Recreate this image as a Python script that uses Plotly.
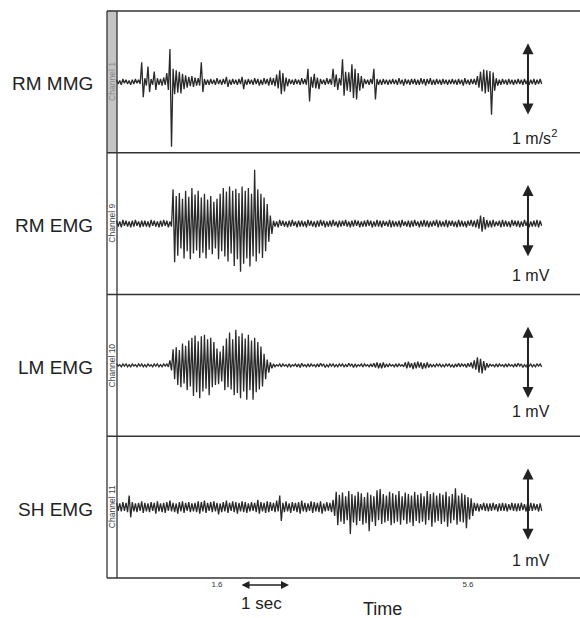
import plotly.graph_objects as go

# ---------------- data (min/max envelope per 0.05 s sample, in 0.01 units) -------------
T = [round(0.05 * i, 2) for i in range(136)]          # time (s)

CH1_HI = ([3, 2, 4, 3, 2, 3, 4, 3,
           27, 5, 21, 4, 14, 5, 4, 6, 12, 45, 18, 16, 14, 11, 9, 7, 8, 6, 5, 27, 4, 3,
           4, 3, 5, 3, 4, 7, 3, 4, 3, 4, 7, 3, 4, 3, 5, 4, 3, 5, 4, 6,
           5, 10, 16, 12, 6, 4, 3, 4, 3, 5, 4, 18, 7, 11, 6, 4, 3, 5, 4, 18,
           10, 5, 31, 14, 13, 24, 18, 12, 8, 4, 3, 4, 18, 4]
          + [3, 4, 3, 3, 4, 3, 5, 3, 4, 3, 4, 4, 3, 5, 4, 4, 5, 3, 4, 3, 4, 3, 3, 4, 3, 4, 3, 5, 3, 4, 4]
          + [8, 14, 17, 16, 15, 13, 5]
          + [3, 4, 3, 4, 3, 3, 4, 3, 4, 3, 3, 4, 3, 4])
CH1_LO = ([-3, -4, -2, -3, -4, -3, -2, -3,
           -21, -5, -14, -4, -11, -4, -5, -4, -11, -89, -17, -15, -16, -10, -8, -6, -7, -5, -5, -14, -4, -4,
           -3, -4, -3, -4, -3, -7, -4, -3, -4, -3, -10, -4, -3, -4, -3, -5, -4, -3, -5, -4,
           -6, -9, -17, -13, -6, -3, -4, -3, -4, -3, -4, -27, -8, -9, -10, -3, -4, -3, -4, -7,
           -11, -5, -19, -12, -14, -22, -24, -12, -9, -3, -4, -3, -24, -4]
          + [-4, -3, -4, -3, -3, -4, -3, -5, -3, -4, -3, -4, -4, -3, -5, -3, -4, -4, -3, -4, -3, -4, -3, -3, -4, -3, -5, -3, -4, -3, -4]
          + [-8, -13, -16, -14, -45, -12, -5]
          + [-4, -3, -4, -3, -4, -3, -3, -4, -3, -4, -3, -4, -3, -3])

CH2_HI = ([4, 3, 5, 4, 3, 4, 5, 3, 4, 4, 3, 5, 4, 3, 4, 5, 4, 3]
          + [47, 38, 42, 34, 45, 37, 49, 40, 45, 36, 41, 33, 38, 30, 34, 41,
             49, 44, 51, 45, 48, 42, 51, 45, 49, 41, 74, 47, 41, 36, 27, 11]
          + [4, 3, 5, 4, 3, 4, 5, 3, 4, 4, 3, 5, 4, 3, 4, 5, 4, 3, 4, 5,
             3, 4, 4, 5, 3, 4, 5, 4, 3, 4, 5, 4, 3, 5, 4, 4, 3, 5, 4, 3,
             4, 5, 3, 4, 4, 5, 3, 4, 5, 4, 3, 4, 5, 4, 3, 5, 4, 4, 3, 5,
             4, 3, 4, 5, 4]
          + [6, 11, 9, 5]
          + [4, 5, 3, 4, 5, 4, 3, 5, 4, 4, 3, 5, 4, 3, 4, 5, 4])
CH2_LO = ([-4, -5, -3, -4, -5, -4, -3, -5, -4, -4, -5, -3, -4, -5, -4, -3, -5, -4]
          + [-53, -44, -34, -48, -38, -49, -41, -37, -47, -40, -48, -36, -42, -34, -49, -38,
             -45, -52, -41, -58, -49, -66, -55, -48, -59, -45, -52, -41, -47, -38, -25, -14]
          + [-4, -5, -3, -4, -5, -4, -3, -5, -4, -4, -5, -3, -4, -5, -4, -3, -5, -4, -4, -3,
             -5, -4, -3, -4, -5, -4, -3, -5, -4, -4, -3, -5, -4, -4, -5, -3, -4, -5, -4, -4,
             -5, -3, -4, -5, -4, -3, -5, -4, -4, -5, -4, -3, -5, -4, -4, -5, -3, -4, -5, -4,
             -4, -5, -3, -4, -5]
          + [-7, -11, -8, -5]
          + [-5, -4, -3, -5, -4, -4, -5, -3, -4, -5, -4, -3, -5, -4, -4, -5, -3])

CH3_HI = ([2, 1, 2, 2, 1, 2, 1, 2, 2, 1, 2, 1, 2, 2, 1, 2, 2]
          + [7, 22, 25, 21, 30, 27, 34, 38, 41, 33, 40, 42, 36, 38, 32, 23, 19,
             27, 37, 45, 36, 49, 40, 44, 37, 42, 34, 38, 32, 26, 16, 8, 4]
          + [2, 1, 2, 2, 1, 2, 1, 2, 2, 3, 1, 2, 2, 1, 2, 3, 2, 1, 2, 2, 1, 2, 2, 1, 3, 2, 2, 1, 2, 2, 1, 2]
          + [3, 4, 3, 4]
          + [2, 2, 1, 2, 2, 1]
          + [4, 5, 3, 4, 5, 4, 3, 4]
          + [2, 1, 2, 2, 1, 2, 2, 1, 2, 3, 2, 2, 3]
          + [4, 7, 11, 9, 6, 3]
          + [2, 1, 2, 2, 1, 2, 2, 1, 2, 3, 2, 1, 2, 2, 1, 2, 2])
CH3_LO = ([-1, -2, -1, -2, -2, -1, -2, -1, -2, -2, -1, -2, -1, -2, -2, -1, -2]
          + [-7, -19, -27, -30, -25, -34, -29, -42, -37, -45, -36, -32, -41, -30, -27, -26, -22,
             -34, -30, -33, -41, -38, -45, -36, -47, -34, -47, -37, -33, -29, -19, -10, -4]
          + [-2, -1, -2, -1, -2, -2, -1, -2, -3, -1, -2, -2, -1, -2, -2, -1, -3, -2, -1, -2, -2, -1, -2, -2, -1, -3, -2, -1, -2, -1, -2, -2]
          + [-3, -4, -4, -3]
          + [-2, -1, -2, -2, -1, -2]
          + [-4, -3, -5, -4, -3, -5, -4, -3]
          + [-2, -2, -1, -2, -2, -1, -2, -3, -2, -2, -1, -3, -2]
          + [-4, -6, -10, -11, -7, -3]
          + [-1, -2, -2, -1, -2, -2, -1, -2, -2, -1, -3, -2, -1, -2, -2, -1, -2])

CH4_HI = ([6, 5, 7, 6, 16]
          + [7, 5, 6, 8, 6, 5, 7, 6, 8, 5, 6, 7, 9, 6, 5, 7, 8, 6, 7, 5,
             6, 8, 7, 9, 6, 7, 8, 6, 5, 7, 9, 6, 8, 7, 6, 8, 7, 5, 7, 6,
             10, 7, 6, 8, 7, 6, 9]
          + [16]
          + [6, 8, 5, 7, 6, 7, 9, 6, 5, 8, 7, 6, 8, 5, 7, 6]
          + [10, 21]
          + [17, 20, 15, 22, 18, 16, 21, 19, 14, 20, 17, 15, 23, 25, 18, 16, 21, 19, 17, 22,
             15, 20, 18, 16, 21, 17, 19, 15, 22, 18, 20, 16, 19, 17, 21, 15, 18, 26, 16, 19,
             17, 14, 12]
          + [6, 5, 4, 6, 5, 5, 6, 4, 5, 6, 5, 4, 6, 5, 5, 6, 4, 5, 6, 5, 4, 5])
CH4_LO = ([-5, -6, -5, -7, -14]
          + [-6, -7, -5, -8, -6, -7, -5, -9, -6, -7, -8, -5, -6, -7, -9, -6, -8, -5, -7, -6,
             -7, -9, -6, -8, -5, -7, -6, -10, -7, -6, -8, -5, -7, -9, -6, -7, -8, -6, -5, -7,
             -9, -6, -8, -7, -5, -7, -6]
          + [-19]
          + [-7, -6, -8, -5, -7, -9, -6, -7, -5, -8, -6, -7, -9, -6, -5, -7]
          + [-12, -25]
          + [-20, -23, -18, -37, -21, -25, -19, -24, -22, -33, -20, -26, -18, -23, -21, -19, -25, -22, -20, -24,
             -18, -23, -21, -26, -19, -22, -20, -24, -18, -27, -21, -19, -23, -20, -27, -22, -18, -24, -20, -21,
             -29, -17, -12]
          + [-5, -6, -4, -5, -6, -5, -4, -6, -5, -5, -6, -4, -5, -6, -5, -4, -6, -5, -5, -4, -6, -5])

ROW_LABELS = ["RM MMG", "RM EMG", "LM EMG", "SH EMG"]
CHANNEL_NAMES = ["Channel 1", "Channel 9", "Channel 10", "Channel 11"]
SCALE_LABELS = ["1 m/s<sup>2</sup>", "1 mV", "1 mV", "1 mV"]
TICK_VALS = [1.6, 5.6]
TICK_TEXT = ["1.6", "5.6"]

SERIES = [(CH1_HI, CH1_LO), (CH2_HI, CH2_LO), (CH3_HI, CH3_LO), (CH4_HI, CH4_LO)]
for hi, lo in SERIES:
    assert len(hi) == len(T) and len(lo) == len(T), (len(hi), len(lo))

# ---------------- figure -------------
FONT = "Liberation Sans, Arial, sans-serif"
INK = "#222222"
fig = go.Figure()

domains = [[0.75, 1.0], [0.5, 0.75], [0.25, 0.5], [0.0, 0.25]]
yr = [-0.973, 0.973]
plot_w = 473.0
strip = 10.0 / plot_w

for k, (hi, lo) in enumerate(SERIES):
    xs, ys = [], []
    for t, h, l in zip(T, hi, lo):
        xs += [t, t + 0.025]
        ys += [h / 100.0, l / 100.0]
    yname = "y" if k == 0 else f"y{k+1}"
    fig.add_trace(go.Scatter(x=xs, y=ys, mode="lines", xaxis="x", yaxis=yname,
                             line=dict(color="#2a2a2a", width=1.3),
                             hoverinfo="skip", showlegend=False))

layout = dict(
    width=580, height=618,
    margin=dict(l=107, r=0, t=11, b=40),
    paper_bgcolor="white", plot_bgcolor="white",
    font=dict(family=FONT, color=INK),
    xaxis=dict(range=[-0.153, 7.385], anchor="y4", showgrid=False, zeroline=False,
               showline=False, ticks="", tickvals=TICK_VALS, ticktext=TICK_TEXT,
               tickfont=dict(size=8, color="#333333"), fixedrange=True),
)
for k in range(4):
    key = "yaxis" if k == 0 else f"yaxis{k+1}"
    layout[key] = dict(domain=domains[k], range=yr, visible=False, anchor="x", fixedrange=True)
fig.update_layout(**layout)

shapes = []
# gray strip for channel 1
shapes.append(dict(type="rect", xref="paper", yref="paper", x0=0, x1=strip, y0=0.75, y1=1,
                   fillcolor="#c4c4c4", line=dict(width=0), layer="below"))
for yv in [1.0, 0.75, 0.5, 0.25, 0.0]:
    shapes.append(dict(type="line", xref="paper", yref="paper", x0=0, x1=1, y0=yv, y1=yv,
                       line=dict(color="#333333", width=1.6)))
for xv in [0, strip]:
    shapes.append(dict(type="line", xref="paper", yref="paper", x0=xv, x1=xv, y0=0, y1=1,
                       line=dict(color="#333333", width=1.3)))
fig.update_layout(shapes=shapes)

ann = []
label_dy = [-0.75, -0.71, -0.64, -0.73]
for k in range(4):
    yref = "y" if k == 0 else f"y{k+1}"
    # row label
    ann.append(dict(text=ROW_LABELS[k], xref="paper", yref=yref, x=-12 / plot_w, y=0,
                    xanchor="right", yanchor="middle", showarrow=False, yshift=-2,
                    font=dict(size=19, color=INK)))
    # channel name in strip
    ann.append(dict(text=CHANNEL_NAMES[k], xref="paper", yref=yref, x=strip / 2, y=0,
                    xanchor="center", yanchor="middle", showarrow=False, textangle=-90,
                    font=dict(size=8.5, color="#8a8a8a" if k == 0 else "#444444")))
    # scale arrow
    ann.append(dict(text="", xref="x", yref=yref, x=6.556, y=0.53,
                    axref="x", ayref=yref, ax=6.556, ay=-0.47,
                    showarrow=True, arrowhead=2, arrowside="end+start", arrowsize=1.1,
                    arrowwidth=2, arrowcolor=INK, standoff=0, startstandoff=0))
    ann.append(dict(text=SCALE_LABELS[k], xref="x", yref=yref, x=6.27, y=label_dy[k],
                    xanchor="left", yanchor="middle", showarrow=False,
                    font=dict(size=16, color=INK)))

# 1 sec arrow and labels below axis
ann.append(dict(text="", xref="x", yref="paper", x=2.747, y=-0.0123,
                axref="x", ayref="pixel", ax=1.967, ay=0,
                showarrow=True, arrowhead=2, arrowside="end+start", arrowsize=1,
                arrowwidth=1.6, arrowcolor=INK, standoff=0, startstandoff=0))
ann.append(dict(text="1 sec", xref="x", yref="paper", x=2.317, y=-0.0441,
                xanchor="center", yanchor="middle", showarrow=False,
                font=dict(size=17, color=INK)))
ann.append(dict(text="Time", xref="x", yref="paper", x=4.245, y=-0.0547,
                xanchor="center", yanchor="middle", showarrow=False,
                font=dict(size=18, color=INK)))
fig.update_layout(annotations=ann)

fig.write_html("out.html", config={"displayModeBar": False},
               post_script="document.body.style.margin='0';document.body.style.padding='0';"
                           "document.body.style.overflow='hidden';")
